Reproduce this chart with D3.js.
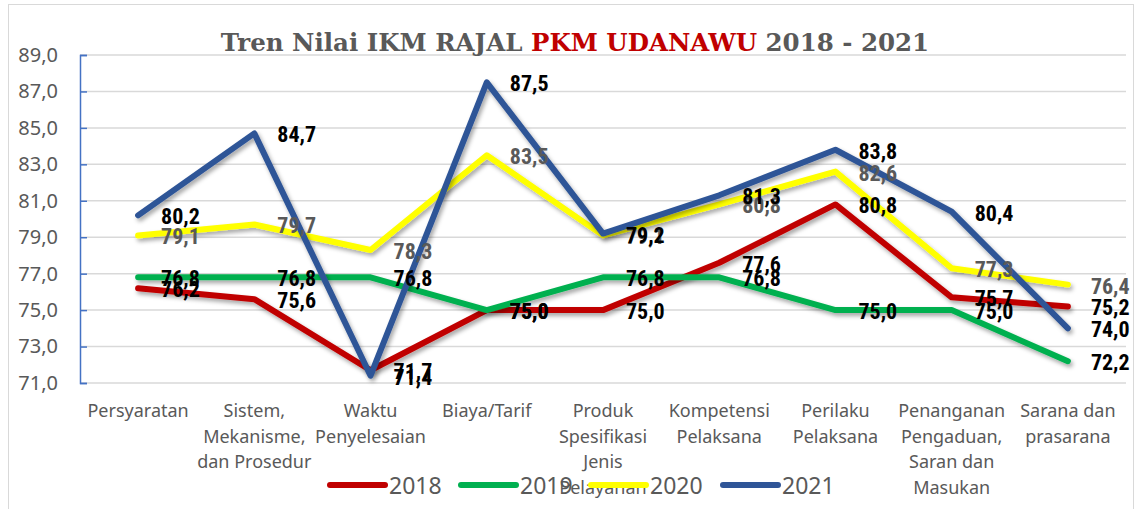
<!DOCTYPE html>
<html>
<head>
<meta charset="utf-8">
<script src="https://cdn.jsdelivr.net/npm/d3@7"></script>
<style>
  body { margin: 0; background: #fff; }
  svg { display: block; }
</style>
</head>
<body>
<script>
// categories (x axis), wrapped the way the chart wraps them
var categories = [
  ["Persyaratan"],
  ["Sistem,", "Mekanisme,", "dan Prosedur"],
  ["Waktu", "Penyelesaian"],
  ["Biaya/Tarif"],
  ["Produk", "Spesifikasi", "Jenis", "Pelayanan"],
  ["Kompetensi", "Pelaksana"],
  ["Perilaku", "Pelaksana"],
  ["Penanganan", "Pengaduan,", "Saran dan", "Masukan"],
  ["Sarana dan", "prasarana"]
];
var years = ["2018", "2019", "2020", "2021"];
var v2018 = [76.2, 75.6, 71.7, 75.0, 75.0, 77.6, 80.8, 75.7, 75.2];
var v2019 = [76.8, 76.8, 76.8, 75.0, 76.8, 76.8, 75.0, 75.0, 72.2];
var v2020 = [79.1, 79.7, 78.3, 83.5, 79.1, 80.8, 82.6, 77.3, 76.4];
var v2021 = [80.2, 84.7, 71.4, 87.5, 79.2, 81.3, 83.8, 80.4, 74.0];
var yTicks = [71, 73, 75, 77, 79, 81, 83, 85, 87, 89];

var lineColors = ["#C00000", "#00B050", "#FFFF00", "#2F5597"];
var labelColors = ["#000", "#000", "#595959", "#000"];

var series = [v2018, v2019, v2020, v2021].map(function(vals, i) {
  return { year: years[i], values: vals, color: lineColors[i], labelColor: labelColors[i] };
});

var w = 1141, h = 509;
var svg = d3.select("body").append("svg").attr("width", w).attr("height", h);

// drop shadow like the office chart
var f = svg.append("defs").append("filter").attr("id", "shadow")
  .attr("x", "-10%").attr("y", "-10%").attr("width", "120%").attr("height", "130%");
f.append("feDropShadow").attr("dx", 2).attr("dy", 3).attr("stdDeviation", 2)
  .attr("flood-color", "#000").attr("flood-opacity", 0.35);

// chart border
svg.append("rect").attr("x", 8.5).attr("y", 4.5).attr("width", 1125).attr("height", 520)
  .attr("fill", "#fff").attr("stroke", "#D9D9D9");

var x = d3.scaleBand().domain(d3.range(categories.length)).range([80, 1126]);
var y = d3.scaleLinear().domain([71, 89]).range([383, 55]);
var cx = function(i) { return x(i) + x.bandwidth() / 2; };

// gridlines
svg.append("g").selectAll("line").data(yTicks).enter().append("line")
  .attr("x1", 80).attr("x2", 1126)
  .attr("y1", function(d) { return y(d); }).attr("y2", function(d) { return y(d); })
  .attr("stroke", "#D9D9D9").attr("stroke-width", 1.5);

// y axis
var yAxis = d3.axisLeft(y).tickValues(yTicks).tickSize(-7).tickPadding(22)
  .tickFormat(function(d) { return d3.format(".1f")(d).replace(".", ","); });
var ga = svg.append("g").attr("transform", "translate(80,0)").call(yAxis);
ga.select(".domain").attr("stroke", "#4472C4").attr("stroke-width", 1.5);
ga.selectAll(".tick line").attr("stroke", "#4472C4").attr("stroke-width", 1.5);
ga.selectAll(".tick text").attr("fill", "#595959")
  .style("font-family", "'Noto Sans', sans-serif").style("font-size", "20px");

// x labels
var xl = svg.append("g").selectAll("text").data(categories).enter().append("text")
  .attr("x", function(d, i) { return cx(i); })
  .attr("y", 417)
  .attr("text-anchor", "middle")
  .attr("fill", "#595959")
  .style("font-family", "'Noto Sans', sans-serif").style("font-size", "18px");
xl.selectAll("tspan").data(function(d) { return d; }).enter().append("tspan")
  .attr("x", function() { return d3.select(this.parentNode).attr("x"); })
  .attr("dy", function(d, i) { return i === 0 ? 0 : 25.5; })
  .text(function(d) { return d; });

// lines
var line = d3.line().x(function(d, i) { return cx(i); }).y(function(d) { return y(d); });
svg.append("g").selectAll("path").data(series).enter().append("path")
  .attr("d", function(d) { return line(d.values); })
  .attr("fill", "none")
  .attr("stroke", function(d) { return d.color; })
  .attr("stroke-width", 6)
  .attr("stroke-linejoin", "round")
  .attr("stroke-linecap", "round")
  .attr("filter", "url(#shadow)");

// data labels
series.forEach(function(s) {
  svg.append("g").selectAll("text").data(s.values).enter().append("text")
    .attr("x", function(d, i) { return cx(i) + 23; })
    .attr("y", function(d) { return y(d) + 9; })
    .attr("fill", s.labelColor)
    .style("font-family", "'Liberation Sans Narrow', 'Arial Narrow', 'Roboto', sans-serif")
    .style("font-stretch", "condensed")
    .style("font-weight", "bold").style("font-size", "22px")
    .text(function(d) { return d3.format(".1f")(d).replace(".", ","); });
});

// title
var title = svg.append("text").attr("x", 575).attr("y", 51).attr("text-anchor", "middle")
  .attr("fill", "#595959")
  .style("font-family", "'DejaVu Serif', serif").style("font-weight", "bold").style("font-size", "24.5px");
title.append("tspan").text("Tren Nilai IKM RAJAL ");
title.append("tspan").attr("fill", "#C00000").text("PKM UDANAWU");
title.append("tspan").text(" 2018 - 2021");

// legend
var legendX = [330, 461, 591, 723];
var lg = svg.append("g").selectAll("g").data(series).enter().append("g")
  .attr("transform", function(d, i) { return "translate(" + legendX[i] + ",485)"; });
lg.append("line").attr("x1", 0).attr("x2", 55).attr("y1", 0).attr("y2", 0)
  .attr("stroke", function(d) { return d.color; }).attr("stroke-width", 6).attr("stroke-linecap", "round");
lg.append("text").attr("x", 59).attr("y", 8.5).attr("fill", "#595959")
  .style("font-family", "'Noto Sans', sans-serif").style("font-size", "23px")
  .text(function(d) { return d.year; });
</script>
</body>
</html>
